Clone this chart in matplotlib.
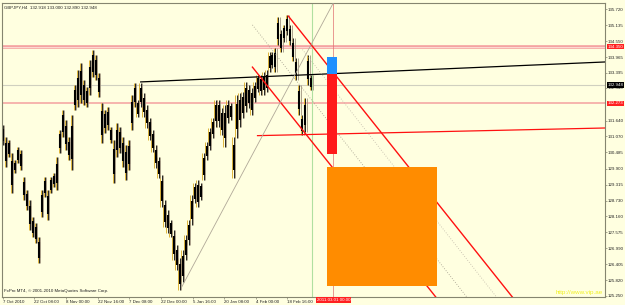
import numpy as np
import matplotlib.pyplot as plt

# GBPJPY H4 (one sample ~ 1.3 trading days)
highs = [131.49, 131.05, 130.94, 130.47, 130.21, 130.69, 130.58, 129.59, 129.12, 128.75,
         128.13, 127.91, 127.40, 129.12, 129.59, 129.12, 129.59, 129.74, 130.32, 131.31,
         132.04, 131.67, 131.05, 131.85, 132.95, 133.49, 133.75, 133.13, 132.87, 133.86,
         134.22, 134.04, 133.38, 132.29, 132.04, 132.14, 131.42, 130.94, 131.56, 131.42,
         131.05, 130.76, 130.94, 132.58, 133.02, 132.40, 133.02, 132.66, 132.22, 131.74,
         131.31, 130.76, 130.32, 129.66, 128.75, 128.39, 128.02, 127.66, 127.11, 126.64,
         126.93, 127.48, 128.02, 128.93, 129.37, 129.48, 129.37, 130.47, 130.87, 131.38,
         131.74, 132.40, 132.40, 132.11, 132.22, 132.40, 132.29, 131.05, 132.58, 132.66,
         132.69, 133.06, 132.95, 132.84, 133.06, 133.31, 133.31, 133.42, 133.49, 134.15,
         134.15, 134.30, 135.43, 134.95, 135.14, 135.50, 135.14, 134.66, 133.93, 132.95,
         131.85, 132.47, 134.04, 133.31]
lows = [130.76, 129.94, 130.32, 129.01, 129.74, 130.10, 129.85, 128.75, 128.39, 127.66,
        127.40, 127.18, 126.44, 128.13, 128.86, 128.02, 129.01, 129.23, 129.12, 130.47,
        131.05, 130.58, 130.21, 129.85, 132.04, 132.14, 132.29, 132.22, 132.14, 132.58,
        133.24, 133.13, 132.51, 130.83, 131.20, 131.31, 130.83, 129.37, 130.32, 130.47,
        129.94, 129.48, 129.85, 131.31, 132.14, 131.78, 132.14, 131.78, 131.38, 130.94,
        130.50, 129.92, 129.55, 128.50, 127.77, 127.55, 127.40, 126.56, 126.20, 125.47,
        125.76, 126.56, 127.11, 127.84, 128.64, 128.50, 128.75, 129.48, 130.21, 130.58,
        131.01, 131.42, 131.42, 131.12, 130.69, 131.56, 131.67, 129.55, 131.01, 131.42,
        131.74, 131.96, 132.11, 131.85, 132.33, 132.69, 132.58, 132.58, 132.69, 133.42,
        133.57, 133.42, 134.41, 134.15, 134.52, 134.77, 134.41, 133.81, 133.13, 131.85,
        131.12, 131.23, 132.95, 132.77]

price_ticks = [135.720, 135.135, 134.550, 133.965, 133.395, 132.840, 131.640, 131.070,
               130.485, 129.900, 129.315, 128.730, 128.160, 127.575, 126.990, 126.405,
               125.820, 125.250]
time_ticks = [0, 10.33, 21, 31.67, 42, 52.67, 63.33, 73.67, 84.33, 95]
time_labels = ['7 Oct 2010', '22 Oct 08:00', '8 Nov 00:00', '22 Nov 16:00', '7 Dec 08:00',
               '22 Dec 00:00', '5 Jan 16:00', '20 Jan 08:00', '4 Feb 00:00', '18 Feb 16:00']

# chart objects (bar index, price)
black_trend = ([46, 201.5], [133.06, 133.79])
red_flat = ([85, 201.5], [131.10, 131.38])
channel_upper = ([95.3, 176], [135.46, 124.4])
channel_lower = ([83.3, 150], [133.60, 124.46])
dotted_a = ([83.3, 160], [135.14, 124.5])
dotted_b = ([100, 167], [134.24, 124.9])
rise_line = ([59.7, 110.3], [125.58, 135.94])
blue_box = (108.3, 111.7, 133.35, 133.97)
red_box = (108.3, 111.7, 130.43, 133.35)
orange_box = (108.3, 145, 125.61, 129.96)
level_hi = 134.350
level_bid = 132.948
level_lo = 132.273
last_bar = 103.3
cursor_bar = 110.3

plt.rcParams['font.family'] = ['Liberation Sans', 'DejaVu Sans']
fs = 3.2
bg = '#ffffe0'
frame = '#85856f'

fig = plt.figure(figsize=(6.25, 3.05), dpi=100, facecolor=bg)
ax = fig.add_axes([2 / 625, 8 / 305, 603 / 625, 294 / 305], facecolor=bg)
ax.set_xlim(-0.3, 201.0)
ax.set_ylim(125.213, 135.939)

# levels
ax.axhline(level_hi, color='#f4a0a0', lw=2.6, zorder=1)
ax.axhline(level_hi, color='#fcd8d0', lw=0.8, zorder=1)
ax.axhline(level_bid, color='#d0d0c0', lw=0.8, zorder=1)
ax.axhline(level_lo, color='#f4a0a0', lw=1.1, zorder=1)
ax.axvline(last_bar, color='#b0e0a0', lw=0.8, zorder=1)
ax.axvline(cursor_bar, color='#e07070', lw=0.5, zorder=1)

# candles
k = np.arange(len(highs))
hi = np.array(highs)
lo = np.array(lows)
rng = hi - lo
ax.vlines(k - 0.4, lo, hi, color='#d8a820', lw=0.6, zorder=2)
ax.vlines(k + 0.4, lo, hi, color='#a09480', lw=0.6, zorder=2)
ax.vlines(k, lo, hi, color='black', lw=0.6, zorder=2)
ax.vlines(k, lo + 0.2 * rng, hi - 0.2 * rng, color='black', lw=1.5, zorder=2)

# objects
ax.plot(*black_trend, color='black', lw=0.9, zorder=3)
ax.plot(*red_flat, color='#ff1010', lw=0.9, zorder=3)
ax.plot(*channel_upper, color='#ff1010', lw=1.0, zorder=3)
ax.plot(*channel_lower, color='#ff1010', lw=1.0, zorder=3)
ax.plot(*dotted_a, color='#a09a8a', lw=0.6, ls=(0, (1, 2)), zorder=3)
ax.plot(*dotted_b, color='#c0b8a8', lw=0.6, ls=(0, (1, 2)), zorder=3)
ax.plot(*rise_line, color='#b0a898', lw=0.6, zorder=3)

for (x0, x1, y0, y1), c in [(blue_box, '#1e90ff'), (red_box, '#ff1a1a'), (orange_box, '#ff8c00')]:
    ax.add_patch(plt.Rectangle((x0, y0), x1 - x0, y1 - y0, facecolor=c, edgecolor='none', zorder=4))

# axes styling
for s in ax.spines.values():
    s.set_color(frame)
    s.set_linewidth(0.8)
ax.yaxis.tick_right()
ax.set_yticks(price_ticks)
ax.set_yticklabels([f'{v:.3f}' for v in price_ticks])
ax.set_xticks(time_ticks)
ax.set_xticklabels(time_labels, ha='left')
ax.tick_params(axis='both', labelsize=fs, length=1.5, width=0.5, color=frame, pad=0.5, labelcolor='#222222')

yt = ax.get_yaxis_transform()
xt = ax.get_xaxis_transform()
for val, fc, tc in [(level_hi, '#ff2020', 'white'), (level_bid, 'black', 'white'), (level_lo, '#ff2020', 'white')]:
    ax.text(1.004, val, f'{val:.3f}', transform=yt, fontsize=fs, color=tc, va='center', ha='left',
            bbox=dict(facecolor=fc, edgecolor='none', pad=0.6), clip_on=False, zorder=6)
ax.text(cursor_bar, -0.004, '2011.03.01 00:00', transform=xt, fontsize=fs, color='white', va='top', ha='center',
        bbox=dict(facecolor='#ff2020', edgecolor='none', pad=0.5), clip_on=False, zorder=6)

ax.text(0.004, 0.992, 'GBPJPY,H4  132.918 133.000 132.890 132.948', transform=ax.transAxes,
        fontsize=fs, color='#222222', va='top', ha='left')
ax.text(0.004, 0.012, 'FxPro MT4, \u00a9 2001-2010 MetaQuotes Software Corp.', transform=ax.transAxes,
        fontsize=fs, color='#222222', va='bottom', ha='left')
ax.text(0.997, 0.008, 'http://www.vip.ae', transform=ax.transAxes, fontsize=4.5, color='#f0f020',
        va='bottom', ha='right', zorder=5)

fig.savefig('out.png', dpi=100, facecolor=bg)
